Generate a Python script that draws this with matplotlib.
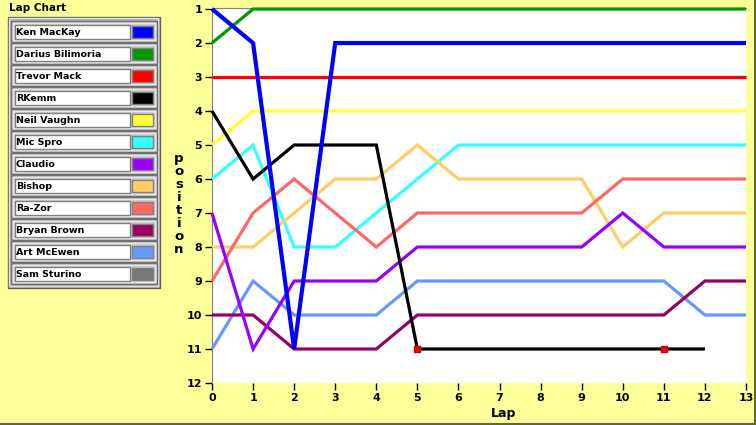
import matplotlib
matplotlib.use("Agg")
import matplotlib.pyplot as plt
from matplotlib.patches import Rectangle
import numpy as np

names = ["Ken MacKay", "Darius Bilimoria", "Trevor Mack", "RKemm", "Neil Vaughn",
         "Mic Spro", "Claudio", "Bishop", "Ra-Zor", "Bryan Brown", "Art McEwen", "Sam Sturino"]
colors = ["#0000FF", "#009900", "#FF0000", "#000000", "#FFFF33",
          "#33FFFF", "#9900FF", "#FFCC66", "#FF6666", "#990066", "#6699FF", "#777777"]

laps = list(range(14))
ken     = [1, 2, 11, 2, 2, 2, 2, 2, 2, 2, 2, 2, 2, 2]
darius  = [2, 1, 1, 1, 1, 1, 1, 1, 1, 1, 1, 1, 1, 1]
trevor  = [3, 3, 3, 3, 3, 3, 3, 3, 3, 3, 3, 3, 3, 3]
rkemm   = [4, 6, 5, 5, 5, 11, 11, 11, 11, 11, 11, 11, 11]
neil    = [5, 4, 4, 4, 4, 4, 4, 4, 4, 4, 4, 4, 4, 4]
mic     = [6, 5, 8, 8, 7, 6, 5, 5, 5, 5, 5, 5, 5, 5]
claudio = [7, 11, 9, 9, 9, 8, 8, 8, 8, 8, 7, 8, 8, 8]
bishop  = [8, 8, 7, 6, 6, 5, 6, 6, 6, 6, 8, 7, 7, 7]
razor   = [9, 7, 6, 7, 8, 7, 7, 7, 7, 7, 6, 6, 6, 6]
bryan   = [10, 10, 11, 11, 11, 10, 10, 10, 10, 10, 10, 10, 9, 9]
art     = [11, 9, 10, 10, 10, 9, 9, 9, 9, 9, 9, 9, 10, 10]
sam     = []
series = [ken, darius, trevor, rkemm, neil, mic, claudio, bishop, razor, bryan, art, sam]
pit_laps = [5, 11]
pit_pos = [11, 11]

W, H = 756, 425
fig = plt.figure(figsize=(W / 100, H / 100), dpi=100, facecolor="#FFFF99")

ax = fig.add_axes([212 / W, 1 - 383 / H, (746 - 212) / W, (383 - 8) / H])
ax.set_facecolor("white")
draw_order = [2, 4, 5, 7, 8, 10, 9, 6, 1, 3, 0]
for i in draw_order:
    s = series[i]
    if not s:
        continue
    lw = 3.0 if i == 0 else 2.3
    ax.plot(laps[:len(s)], s, color=colors[i], lw=lw, solid_joinstyle="miter",
            solid_capstyle="butt", zorder=3, clip_on=False)
ax.plot(pit_laps, pit_pos, ls="none", marker="s", ms=5, color="#FF0000", mec="#CC0000",
        zorder=4, clip_on=False)

ax.set_xlim(0, 13)
ax.set_ylim(12, 0.97)
ax.set_xticks(range(0, 14))
ax.set_yticks(range(1, 13))
for lab in ax.get_xticklabels() + ax.get_yticklabels():
    lab.set_fontweight("bold")
    lab.set_fontsize(8)
ax.tick_params(axis="both", direction="out", length=5, width=1, color="black", pad=2)
ax.spines["left"].set_color("#808080")
ax.spines["top"].set_color("#808080")
ax.spines["right"].set_visible(False)
ax.spines["bottom"].set_visible(False)

fig.text(179 / W, 1 - 204 / H, "\n".join("position"), ha="center", va="center",
         fontsize=9.5, fontweight="bold", linespacing=1.0)
fig.text(504 / W, 1 - 413 / H, "Lap", ha="center", va="center", fontsize=9, fontweight="bold")
fig.text(9 / W, 1 - 8 / H, "Lap Chart", ha="left", va="center", fontsize=7.5, fontweight="bold")

# overlay in pixel coordinates for legend panel and border
ov = fig.add_axes([0, 0, 1, 1], zorder=5)
ov.set_xlim(0, W)
ov.set_ylim(H, 0)
ov.axis("off")
ov.patch.set_alpha(0)

ov.add_patch(Rectangle((8, 17), 152, 271, facecolor="#B0B0B0", edgecolor="#606060", lw=1))
ov.add_patch(Rectangle((9, 18), 149, 268, facecolor="none", edgecolor="#E0E0E0", lw=1))
for i, (nm, c) in enumerate(zip(names, colors)):
    y0 = 21 + 22 * i
    ov.add_patch(Rectangle((11, y0), 146, 21, facecolor="#C8C8C8", edgecolor="#707070", lw=1))
    ov.add_patch(Rectangle((13, y0 + 2), 142, 17, facecolor="none", edgecolor="#E8E8E8", lw=1))
    ov.add_patch(Rectangle((15, y0 + 4), 115, 14, facecolor="white", edgecolor="#808080", lw=1))
    ov.add_patch(Rectangle((132, y0 + 5), 21, 12, facecolor=c, edgecolor="#808080", lw=1))
    ov.text(16, y0 + 11.5, nm, ha="left", va="center", fontsize=6.8, fontweight="bold", color="black")

ov.plot([W - 1, W - 1], [0, H], color="#666633", lw=1.5)
ov.plot([0, W], [H - 1, H - 1], color="#666633", lw=1.5)

fig.savefig("out.png", dpi=100, facecolor=fig.get_facecolor())
